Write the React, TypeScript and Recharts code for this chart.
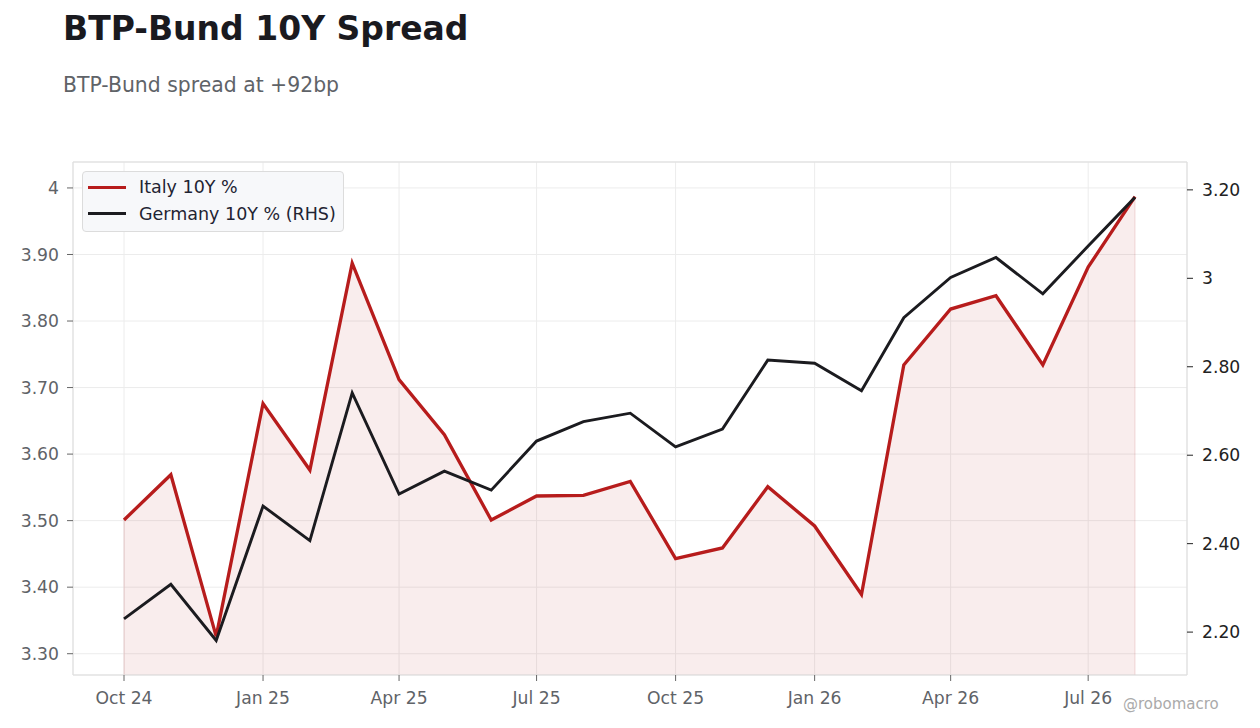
import {
  Area,
  CartesianGrid,
  ComposedChart,
  Line,
  ReferenceLine,
  XAxis,
  YAxis,
} from 'recharts'

const months = [
  '2024-10', '2024-11', '2024-12', '2025-01', '2025-02', '2025-03', '2025-04', '2025-05',
  '2025-06', '2025-07', '2025-08', '2025-09', '2025-10', '2025-11', '2025-12', '2026-01',
  '2026-02', '2026-03', '2026-04', '2026-05', '2026-06', '2026-07', '2026-08',
]

const italy = [
  3.501, 3.569, 3.326, 3.676, 3.576, 3.887, 3.712, 3.629,
  3.501, 3.537, 3.538, 3.559, 3.443, 3.459, 3.551, 3.492,
  3.389, 3.734, 3.818, 3.838, 3.734, 3.881, 3.987,
]

const germany = [
  2.230, 2.308, 2.181, 2.485, 2.407, 2.741, 2.512, 2.564,
  2.521, 2.632, 2.676, 2.695, 2.619, 2.659, 2.815, 2.808,
  2.746, 2.911, 3.002, 3.047, 2.965, 3.073, 3.183,
]

const tickMonths = ['2024-10', '2025-01', '2025-04', '2025-07', '2025-10', '2026-01', '2026-04', '2026-07']
const tickLabels = ['Oct 24', 'Jan 25', 'Apr 25', 'Jul 25', 'Oct 25', 'Jan 26', 'Apr 26', 'Jul 26']

const leftTicks = [3.3, 3.4, 3.5, 3.6, 3.7, 3.8, 3.9, 4]
const rightTicks = [2.2, 2.4, 2.6, 2.8, 3, 3.2]
const leftDomain: [number, number] = [3.268, 4.039]
const rightDomain: [number, number] = [2.103, 3.263]

const ITALY_RED = '#b71c1c'
const GERMANY_BLACK = '#1b1b1f'
const DAY = 86400000

const series = [
  { name: 'Italy 10Y %', color: ITALY_RED },
  { name: 'Germany 10Y % (RHS)', color: GERMANY_BLACK },
]

function toTime(month: string) {
  const [y, m] = month.split('-').map(Number)
  return Date.UTC(y, m - 1, 1)
}

const chartData = months.map((month, i) => ({
  t: toTime(month),
  italy: italy[i],
  germany: germany[i],
}))

const tickTimes = tickMonths.map(toTime)
const firstT = chartData[0].t
const lastT = chartData[chartData.length - 1].t
const xDomain: [number, number] = [firstT - 33.75 * DAY, lastT + 34.4 * DAY]

function formatTick(value: number) {
  const idx = tickTimes.indexOf(value)
  return idx >= 0 ? tickLabels[idx] : ''
}

function formatRate(value: number) {
  return Number.isInteger(value) ? String(value) : value.toFixed(2)
}

export default function App() {
  return (
    <div style={{
      position: 'absolute',
      top: 0,
      left: 0,
      width: 1260,
      height: 728,
      background: '#ffffff',
      fontFamily: '"DejaVu Sans", sans-serif',
    }}>
      <div style={{
        position: 'absolute',
        top: 12,
        left: 63,
        fontSize: 33,
        lineHeight: 1,
        fontWeight: 700,
        color: '#1a1a1f',
        whiteSpace: 'nowrap',
      }}>
        BTP-Bund 10Y Spread
      </div>
      <div style={{
        position: 'absolute',
        top: 75,
        left: 63,
        fontSize: 20.4,
        lineHeight: 1,
        color: '#5f6368',
        whiteSpace: 'nowrap',
      }}>
        BTP-Bund spread at +92bp
      </div>

      <ComposedChart
        width={1260}
        height={728}
        data={chartData}
        margin={{ top: 162, right: 0, bottom: 0, left: 0 }}
      >
        <CartesianGrid yAxisId="left" stroke="#ececec" strokeWidth={1} />

        <XAxis
          dataKey="t"
          type="number"
          scale="time"
          domain={xDomain}
          allowDataOverflow
          ticks={tickTimes}
          interval={0}
          tickFormatter={formatTick}
          tick={{ fontSize: 17.2, fill: '#5f6368' }}
          tickSize={6}
          tickMargin={11}
          tickLine={{ stroke: '#666666' }}
          axisLine={{ stroke: '#dddddd' }}
          height={53}
        />

        <YAxis
          yAxisId="left"
          orientation="left"
          domain={leftDomain}
          allowDataOverflow
          ticks={leftTicks}
          interval={0}
          tickFormatter={formatRate}
          tick={{ fontSize: 17.2, fill: '#5f6368' }}
          tickSize={6}
          tickMargin={8}
          tickLine={{ stroke: '#666666' }}
          axisLine={{ stroke: '#dddddd' }}
          width={73}
        />

        <YAxis
          yAxisId="right"
          orientation="right"
          domain={rightDomain}
          allowDataOverflow
          ticks={rightTicks}
          interval={0}
          tickFormatter={formatRate}
          tick={{ fontSize: 17.2, fill: '#222222' }}
          tickSize={6}
          tickMargin={9}
          tickLine={{ stroke: '#222222' }}
          axisLine={{ stroke: '#dddddd' }}
          width={73}
        />

        <ReferenceLine yAxisId="left" y={leftDomain[1]} stroke="#dddddd" />

        <Area
          yAxisId="left"
          dataKey="italy"
          type="linear"
          stroke="none"
          fill={ITALY_RED}
          fillOpacity={0.08}
          isAnimationActive={false}
        />

        <ReferenceLine
          yAxisId="left"
          segment={[{ x: firstT, y: leftDomain[0] }, { x: firstT, y: italy[0] }]}
          stroke={ITALY_RED}
          strokeOpacity={0.15}
        />
        <ReferenceLine
          yAxisId="left"
          segment={[{ x: lastT, y: leftDomain[0] }, { x: lastT, y: italy[italy.length - 1] }]}
          stroke={ITALY_RED}
          strokeOpacity={0.15}
        />

        <Line
          yAxisId="left"
          dataKey="italy"
          name="Italy 10Y %"
          type="linear"
          stroke={ITALY_RED}
          strokeWidth={3.3}
          dot={false}
          activeDot={false}
          isAnimationActive={false}
        />

        <Line
          yAxisId="right"
          dataKey="germany"
          name="Germany 10Y % (RHS)"
          type="linear"
          stroke={GERMANY_BLACK}
          strokeWidth={2.9}
          dot={false}
          activeDot={false}
          isAnimationActive={false}
        />
      </ComposedChart>

      <LegendBox />

      <div style={{
        position: 'absolute',
        top: 697,
        left: 1123,
        fontSize: 15,
        lineHeight: 1,
        color: '#aaaaaa',
        whiteSpace: 'nowrap',
      }}>
        @robomacro
      </div>
    </div>
  )
}

function LegendBox() {
  return (
    <div style={{
      position: 'absolute',
      top: 171,
      left: 82,
      background: '#f7f8fa',
      border: '1px solid #dcdcdc',
      borderRadius: 4,
      padding: '2px 7px 4px 5px',
      display: 'flex',
      flexDirection: 'column',
    }}>
      {series.map(item => (
        <div key={item.name} style={{ display: 'flex', alignItems: 'center', height: 26.5 }}>
          <span style={{
            display: 'inline-block',
            width: 38,
            height: 3,
            background: item.color,
            marginRight: 13,
          }} />
          <span style={{ fontSize: 17.5, color: '#1f2433', whiteSpace: 'nowrap' }}>
            {item.name}
          </span>
        </div>
      ))}
    </div>
  )
}
